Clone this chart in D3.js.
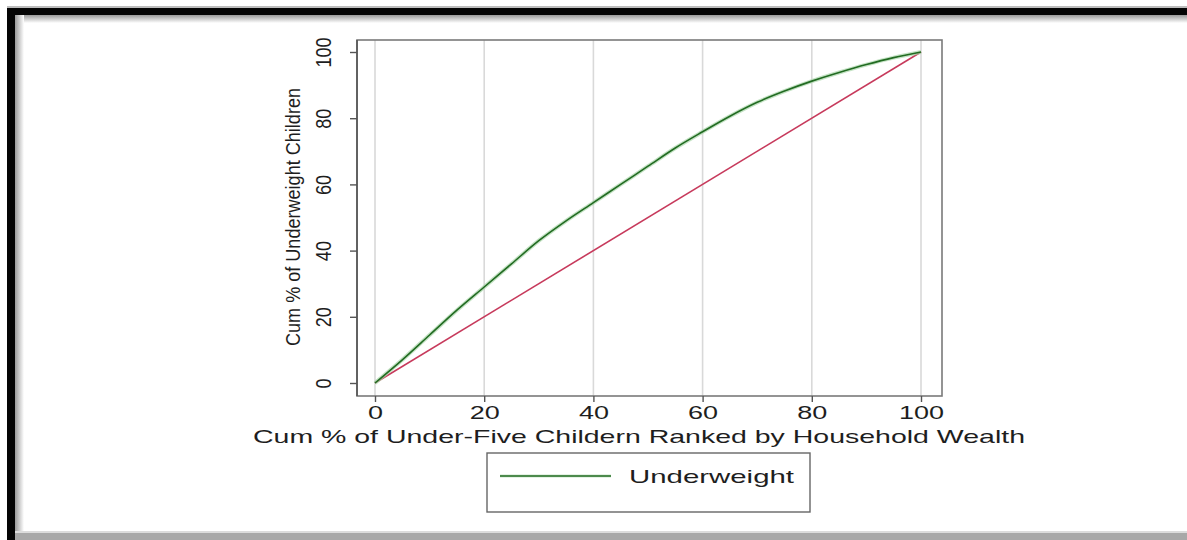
<!DOCTYPE html>
<html>
<head>
<meta charset="utf-8">
<script src="https://cdn.jsdelivr.net/npm/d3@7"></script>
<style>
html,body{margin:0;padding:0;background:#fff;overflow:hidden;}
svg{display:block;}
text{font-family:"Liberation Sans",Arial,sans-serif;fill:#1e1e1e;}
</style>
</head>
<body>
<svg id="chart" width="1187" height="540"></svg>
<script>
// ---- data ----
const cumPopulation = [0,5,10,15,20,25,30,35,40,45,50,55,60,65,70,75,80,85,90,95,100];
const cumUnderweight = [0,7,14.5,22,29,36,43,49,54.5,60,65.5,71,75.9,80.6,84.8,88.2,91.2,93.8,96.2,98.3,100];
const equalityLine = [[0,0],[100,100]];
const xTicks = [0,20,40,60,80,100];
const yTicks = [0,20,40,60,80,100];
const xTitle = "Cum % of Under-Five Childern Ranked by Household Wealth";
const yTitle = "Cum % of Underweight Children";
const seriesName = "Underweight";

const svg = d3.select("#chart");
const W = 1187, H = 540;

// ---- outer frame (scanned figure border) ----
const defs = svg.append("defs");
const gTop = defs.append("linearGradient").attr("id","gTop").attr("x1",0).attr("y1",0).attr("x2",0).attr("y2",1);
gTop.append("stop").attr("offset","0%").attr("stop-color","#9a9a9a");
gTop.append("stop").attr("offset","100%").attr("stop-color","#ffffff");
const gLeft = defs.append("linearGradient").attr("id","gLeft").attr("x1",0).attr("y1",0).attr("x2",1).attr("y2",0);
gLeft.append("stop").attr("offset","0%").attr("stop-color","#9a9a9a");
gLeft.append("stop").attr("offset","100%").attr("stop-color","#ffffff");

svg.append("rect").attr("x",0).attr("y",0).attr("width",W).attr("height",H).attr("fill","#fff");
svg.append("rect").attr("x",15).attr("y",15).attr("width",W-15).attr("height",8).attr("fill","url(#gTop)");
svg.append("rect").attr("x",15).attr("y",15).attr("width",9).attr("height",H-15).attr("fill","url(#gLeft)");
svg.append("rect").attr("x",7).attr("y",8).attr("width",W-7).attr("height",7).attr("fill","#050505");
svg.append("rect").attr("x",7).attr("y",8).attr("width",8).attr("height",H-8).attr("fill","#050505");
svg.append("rect").attr("x",7).attr("y",6).attr("width",W-7).attr("height",2).attr("fill","#bdbdbd");
svg.append("rect").attr("x",15).attr("y",533).attr("width",W-15).attr("height",7).attr("fill","#a8a8a8");
svg.append("rect").attr("x",15).attr("y",531).attr("width",W-15).attr("height",2).attr("fill","#dcdcdc");

// ---- scales ----
const x = d3.scaleLinear().domain([0,100]).range([375,921]);
const y = d3.scaleLinear().domain([0,100]).range([383,52]);
const plot = {left:357, top:40, right:942, bottom:396};

// grid lines
svg.append("g").selectAll("line").data(xTicks).join("line")
  .attr("x1",d=>x(d)).attr("x2",d=>x(d))
  .attr("y1",plot.top).attr("y2",plot.bottom)
  .attr("stroke","#d9d9d9").attr("stroke-width",1.6);

// plot frame
svg.append("rect").attr("x",plot.left).attr("y",plot.top)
  .attr("width",plot.right-plot.left).attr("height",plot.bottom-plot.top)
  .attr("fill","none").attr("stroke","#7a7a7a").attr("stroke-width",1.6);

// equality line
const line = d3.line().x(d=>x(d[0])).y(d=>y(d[1]));
svg.append("path").datum(equalityLine).attr("d",line)
  .attr("fill","none").attr("stroke","#c73a5c").attr("stroke-width",1.6);

// concentration curve
const curve = cumPopulation.map((p,i)=>[p,cumUnderweight[i]]);
const cLine = d3.line().x(d=>x(d[0])).y(d=>y(d[1])).curve(d3.curveMonotoneX);
svg.append("path").datum(curve).attr("d",cLine)
  .attr("fill","none").attr("stroke","#a9d6a9").attr("stroke-width",4).attr("opacity",0.7);
svg.append("path").datum(curve).attr("d",cLine)
  .attr("fill","none").attr("stroke","#226b22").attr("stroke-width",1.6);

// ---- axes ----
const xAxis = svg.append("g").attr("transform",`translate(0,${plot.bottom})`)
  .call(d3.axisBottom(x).tickValues(xTicks).tickSize(6).tickPadding(4).tickFormat(d3.format("d")));
xAxis.select(".domain").remove();
xAxis.selectAll(".tick line").attr("stroke","#555").attr("stroke-width",1.4);
xAxis.selectAll(".tick text").attr("font-size",19).attr("fill","#1e1e1e")
  .style("font-family","Liberation Sans, Arial, sans-serif")
  .each(function(){ const L=this.getComputedTextLength(); d3.select(this).attr("textLength",L*1.42).attr("lengthAdjust","spacingAndGlyphs"); });

const yAxis = svg.append("g").attr("transform",`translate(${plot.left},0)`)
  .call(d3.axisLeft(y).tickValues(yTicks).tickSize(7).tickPadding(0).tickFormat(d3.format("d")));
yAxis.select(".domain").attr("stroke","#555").attr("stroke-width",1.6).attr("d",`M0,${plot.top}V${plot.bottom}`);
yAxis.selectAll(".tick line").attr("stroke","#555").attr("stroke-width",1.4);
yAxis.selectAll(".tick text")
  .attr("x",null).attr("dy",null)
  .attr("text-anchor","middle")
  .attr("font-size",22).attr("fill","#1e1e1e")
  .style("font-family","Liberation Sans, Arial, sans-serif")
  .attr("transform","translate(-34,0) rotate(-90)")
  .attr("y",0).attr("dy","0.36em")
  .each(function(){ const L=this.getComputedTextLength(); d3.select(this).attr("textLength",L*0.82).attr("lengthAdjust","spacingAndGlyphs"); });

// axis titles
svg.append("text").attr("x",(375+921)/2-9).attr("y",443).attr("text-anchor","middle")
  .attr("font-size",19).attr("textLength",772).attr("lengthAdjust","spacingAndGlyphs")
  .text(xTitle);

svg.append("text").attr("transform","translate(300,217) rotate(-90)").attr("text-anchor","middle")
  .attr("font-size",21).attr("textLength",258).attr("lengthAdjust","spacingAndGlyphs")
  .text(yTitle);

// ---- legend ----
const lg = svg.append("g");
lg.append("rect").attr("x",487).attr("y",453).attr("width",323).attr("height",59)
  .attr("fill","#fff").attr("stroke","#666").attr("stroke-width",1.4);
lg.append("line").attr("x1",500).attr("x2",611).attr("y1",476).attr("y2",476)
  .attr("stroke","#a9d6a9").attr("stroke-width",3).attr("opacity",0.6);
lg.append("line").attr("x1",500).attr("x2",611).attr("y1",476).attr("y2",476)
  .attr("stroke","#226b22").attr("stroke-width",1.6);
lg.append("text").attr("x",629).attr("y",483).attr("font-size",19)
  .attr("textLength",165).attr("lengthAdjust","spacingAndGlyphs").text(seriesName);
</script>
</body>
</html>
